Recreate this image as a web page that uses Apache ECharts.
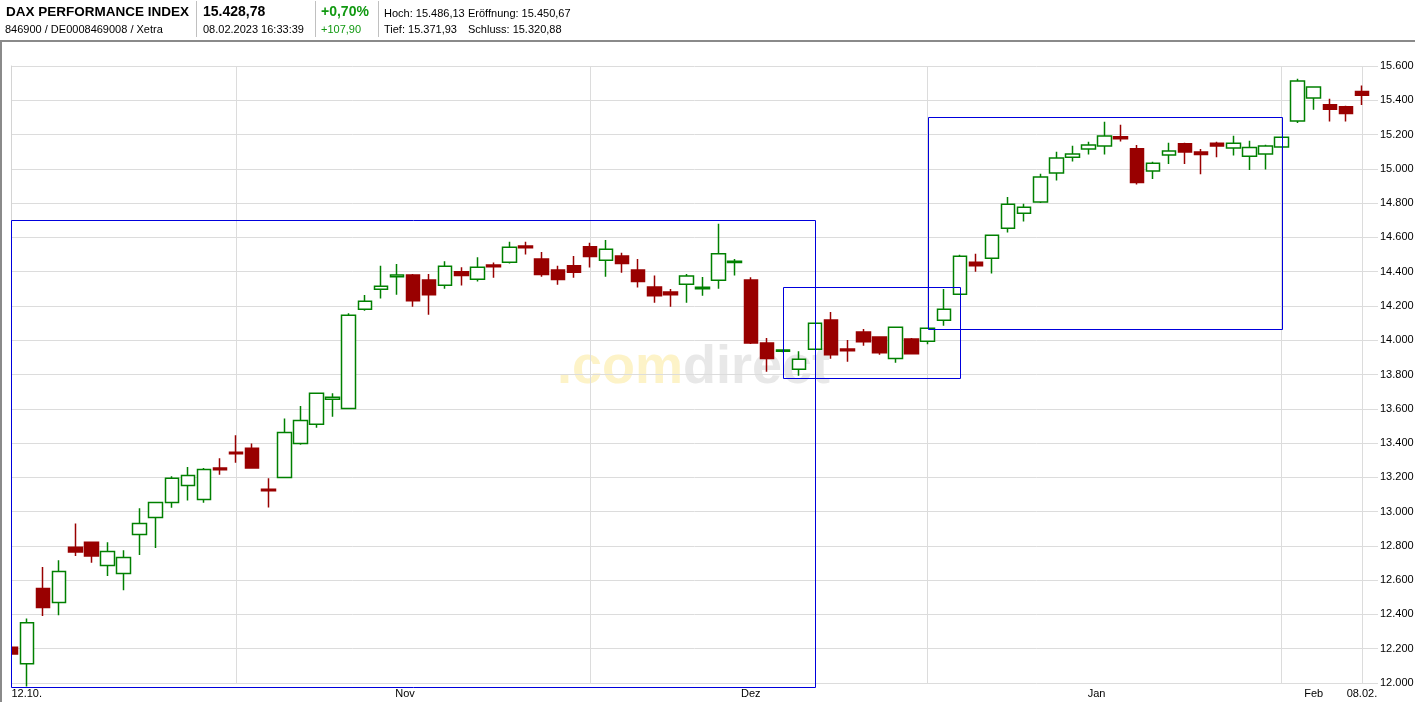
<!DOCTYPE html>
<html><head><meta charset="utf-8">
<script src="https://cdn.jsdelivr.net/npm/echarts@6/dist/echarts.min.js"></script>
<style>html,body{margin:0;padding:0;background:#fff;}#c{width:1415px;height:702px;}</style>
</head><body><div id="c"></div>
<script>
const dates = [
 '12.10.','13.10.','14.10.','17.10.','18.10.','19.10.','20.10.','21.10.','24.10.','25.10.','26.10.','27.10.','28.10.','31.10.',
 '01.11.','02.11.','03.11.','04.11.','07.11.','08.11.','09.11.','10.11.','11.11.','14.11.','15.11.','16.11.','17.11.','18.11.','21.11.','22.11.','23.11.','24.11.','25.11.','28.11.','29.11.','30.11.',
 '01.12.','02.12.','05.12.','06.12.','07.12.','08.12.','09.12.','12.12.','13.12.','14.12.','15.12.','16.12.','19.12.','20.12.','21.12.','22.12.','23.12.','27.12.','28.12.','29.12.','30.12.',
 '02.01.','03.01.','04.01.','05.01.','06.01.','09.01.','10.01.','11.01.','12.01.','13.01.','16.01.','17.01.','18.01.','19.01.','20.01.','23.01.','24.01.','25.01.','26.01.','27.01.','30.01.','31.01.',
 '01.02.','02.02.','03.02.','06.02.','07.02.','08.02.'
];
const openV = [12208,12113,12551,12469,12792,12821,12685,12639,12866,12966,13053,13153,13071,13254,13347,13369,13131,13199,13398,13509,13655,13602,14181,14297,14371,14381,14352,14321,14399,14356,14439,14455,14550,14474,14410,14434,14545,14467,14492,14410,14311,14282,14327,14301,14350,14453,14352,13984,13935,13830,13947,14118,13949,14048,14019,13894,14007,13994,14116,14268,14455,14479,14654,14741,14806,14975,15068,15115,15133,15187,15117,14987,15080,15146,15098,15150,15121,15074,15086,15127,15279,15413,15374,15362,15450.67];
const closeV = [12169,12352,12440,12650,12765,12741,12767,12732,12931,13053,13194,13211,13246,13244,13337,13255,13121,13462,13532,13690,13667,14146,14227,14315,14381,14231,14266,14432,14377,14426,14429,14543,14540,14383,14354,14397,14488,14531,14447,14342,14260,14266,14375,14309,14504,14461,13984,13894,13943,13889,14099,13915,13939,13991,13927,14076,13921,14070,14181,14490,14435,14613,14794,14776,14952,15063,15086,15139,15191,15175,14920,15033,15104,15098,15084,15133,15150,15125,15133,15185,15512,15477,15347,15323,15428.78];
const lowV = [12160,11980,12391,12395,12741,12701,12625,12541,12747,12788,13022,13065,13051,13215,13285,13250,13024,13194,13390,13489,13553,13600,14172,14243,14266,14196,14149,14301,14319,14342,14365,14447,14500,14371,14324,14365,14424,14371,14394,14307,14219,14196,14219,14260,14301,14377,13978,13816,13930,13793,13945,13892,13875,13968,13915,13869,13918,13976,14085,14265,14400,14389,14628,14692,14800,14932,15043,15084,15084,15160,14908,14940,15028,15028,14969,15068,15078,14993,14996,15125,15267,15345,15276,15276,15371.93];
const highV = [12215,12376,12677,12716,12931,12825,12821,12775,13020,13057,13207,13260,13254,13312,13446,13398,13194,13544,13616,13695,13690,14157,14264,14434,14445,14387,14387,14461,14426,14484,14453,14574,14574,14515,14434,14492,14568,14585,14510,14474,14377,14299,14387,14369,14679,14474,14368,14013,13947,13935,14102,14165,14001,14066,14022,14078,14013,14072,14299,14498,14504,14615,14835,14796,14971,15099,15134,15158,15275,15257,15139,15041,15152,15152,15115,15158,15193,15164,15140,15188,15526,15480,15409,15368,15486.13];

const monthStarts = [14, 36, 57, 79, 84];
const xLabelPos = [0, 24.5, 46, 67.5, 81, 84];
const xLabelText = ['12.10.', 'Nov', 'Dez', 'Jan', 'Feb', '08.02.'];
// [fromIndex, toIndex, topValue, bottomValue]
const boxes = [[0, 50, 14700, 11975], [48, 59, 14310, 13780], [57, 79, 15300, 14065]];

const header = {
  name: 'DAX PERFORMANCE INDEX', ids: '846900 / DE0008469008 / Xetra',
  last: '15.428,78', time: '08.02.2023 16:33:39', pct: '+0,70%', diff: '+107,90',
  hoch: 'Hoch: 15.486,13', eroeff: 'Eröffnung: 15.450,67', tief: 'Tief: 15.371,93', schluss: 'Schluss: 15.320,88'
};

const FONT = '"Liberation Sans", Arial, sans-serif';
const AX_FS = 11;
const cv = document.createElement('canvas').getContext('2d');
cv.font = AX_FS + 'px ' + FONT;
const firstW = Math.ceil(cv.measureText(xLabelText[0]).width);

function fmtThousands(v) {
  const t = Math.floor(v / 1000), r = Math.round(v % 1000);
  return t + '.' + String(r).padStart(3, '0');
}

const chart = echarts.init(document.getElementById('c'), null, {renderer: 'canvas'});
const candleData = dates.map((d, i) => [openV[i], closeV[i], lowV[i], highV[i]]);

function txt(x, y, text, font, fill) {
  return {type: 'text', x: x, y: y, silent: true, z: 20, style: {text: text, font: font, fill: fill || '#000', verticalAlign: 'top'}};
}
function vline(x, y1, y2, color, w) {
  return {type: 'line', silent: true, z: 30, shape: {x1: x, y1: y1, x2: x, y2: y2}, style: {stroke: color, lineWidth: w || 1}};
}

chart.setOption({
  animation: false,
  backgroundColor: '#fff',
  grid: {left: 11, right: 37, top: 66, bottom: 19, containLabel: false, outerBoundsMode: 'none'},
  xAxis: [{
    type: 'category', data: dates.concat(['']), boundaryGap: false,
    axisLine: {show: false}, axisTick: {show: false}, axisLabel: {show: false},
    splitLine: {show: true, interval: (idx) => monthStarts.indexOf(idx) >= 0, lineStyle: {color: '#dcdcdc', width: 1}}
  }, {
    type: 'value', min: 0, max: 85, position: 'bottom',
    axisLine: {show: false}, axisTick: {show: false}, splitLine: {show: false},
    axisLabel: {
      customValues: xLabelPos, margin: 5, color: '#000', fontSize: AX_FS, fontFamily: FONT,
      formatter: (v) => {
        const k = xLabelPos.indexOf(v);
        const s = k >= 0 ? xLabelText[k] : '';
        return k === 0 ? '{l|' + s + '}' : s;
      },
      rich: {l: {width: firstW * 2, align: 'right', color: '#000', fontSize: AX_FS, fontFamily: FONT}}
    }
  }],
  yAxis: {
    type: 'value', position: 'right', min: 12000, max: 15600, interval: 200,
    axisLine: {show: true, lineStyle: {color: '#d4d4d4'}}, axisTick: {show: false},
    axisLabel: {color: '#000', fontSize: AX_FS, fontFamily: FONT, margin: 2, formatter: fmtThousands},
    splitLine: {show: true, lineStyle: {color: '#dcdcdc', width: 1}}
  },
  series: [{
    type: 'candlestick', xAxisIndex: 0, data: candleData, barWidth: 14, clip: true,
    itemStyle: {color: '#ffffff', color0: '#990000', borderColor: '#008000', borderColor0: '#990000', borderWidth: 1.5}
  }, {
    type: 'custom', xAxisIndex: 0, data: boxes, z: 5, clip: false, silent: true,
    encode: {x: [0, 1], y: [2, 3]},
    renderItem: (params, api) => {
      const p0 = api.coord([api.value(0), api.value(2)]);
      const p1 = api.coord([api.value(1), api.value(3)]);
      const x0 = Math.round(p0[0]) + 0.5, y0 = Math.round(p0[1]) + 0.5;
      const x1 = Math.round(p1[0]) + 0.5, y1 = Math.round(p1[1]) + 0.5;
      return {type: 'rect', shape: {x: x0, y: y0, width: x1 - x0, height: y1 - y0}, style: {fill: 'none', stroke: '#0000dd', lineWidth: 1}};
    }
  }],
  graphic: [
    {type: 'text', z: -10, silent: true, x: 557, y: 395, style: {
      text: '{a|.com}{b|direct}', verticalAlign: 'bottom',
      rich: {a: {fill: '#fdf3c8', font: 'bold 54px ' + FONT}, b: {fill: '#e8e8e8', font: 'bold 54px ' + FONT}}
    }},
    {type: 'rect', silent: true, z: 25, shape: {x: 2, y: 43, width: 9, height: 659}, style: {fill: '#ffffff'}},
    {type: 'line', silent: true, z: 30, shape: {x1: 0, y1: 41, x2: 1415, y2: 41}, style: {stroke: '#8a8a8a', lineWidth: 2}},
    vline(1, 41, 702, '#8a8a8a', 2),
    vline(196.5, 1, 37, '#c0c0c0'),
    vline(315.5, 1, 37, '#c0c0c0'),
    vline(378.5, 1, 37, '#c0c0c0'),
    txt(6, 5, header.name, 'bold 13.5px ' + FONT),
    txt(5, 24.5, header.ids, '11px ' + FONT),
    txt(203, 5, header.last, 'bold 14px ' + FONT),
    txt(203, 24.5, header.time, '11px ' + FONT),
    txt(321, 5, header.pct, 'bold 14px ' + FONT, '#119911'),
    txt(321, 24.5, header.diff, '11px ' + FONT, '#119911'),
    txt(384, 8, header.hoch, '11px ' + FONT),
    txt(468, 8, header.eroeff, '11px ' + FONT),
    txt(384, 24.5, header.tief, '11px ' + FONT),
    txt(468, 24.5, header.schluss, '11px ' + FONT)
  ]
});
</script></body></html>
